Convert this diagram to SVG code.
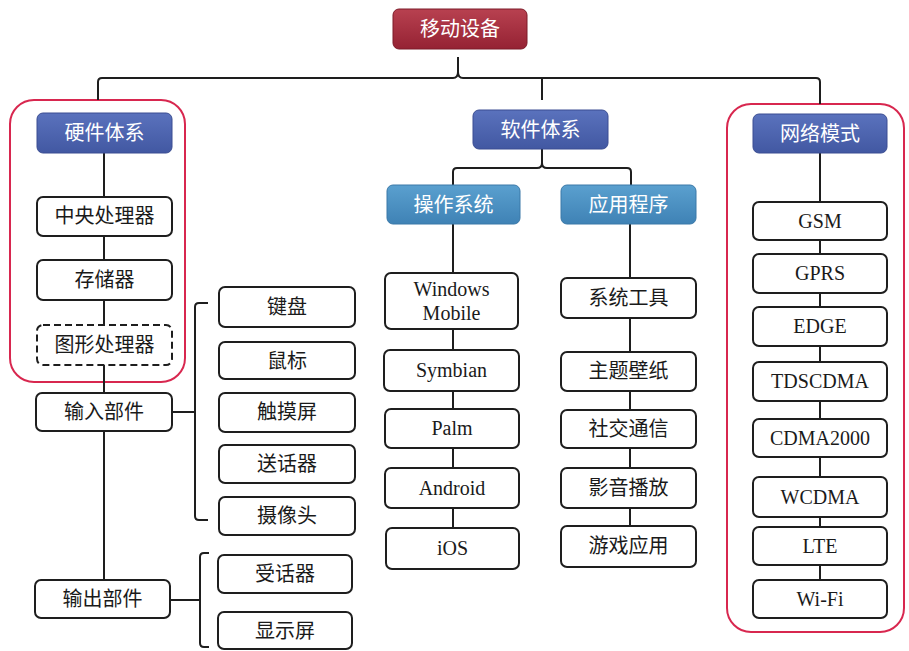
<svg xmlns="http://www.w3.org/2000/svg" width="909" height="651" viewBox="0 0 909 651">
<defs>
<linearGradient id="gRoot" x1="0" y1="0" x2="0" y2="1"><stop offset="0" stop-color="#b84150"/><stop offset="1" stop-color="#952233"/></linearGradient>
<linearGradient id="gBlue" x1="0" y1="0" x2="0" y2="1"><stop offset="0" stop-color="#5a72bd"/><stop offset="1" stop-color="#4258a2"/></linearGradient>
<linearGradient id="gSteel" x1="0" y1="0" x2="0" y2="1"><stop offset="0" stop-color="#5aa0cf"/><stop offset="1" stop-color="#3f82b5"/></linearGradient>
</defs>
<style>
.box{fill:#fff;stroke:#1e1e1e;stroke-width:2}
.dash{fill:#fff;stroke:#1e1e1e;stroke-width:2;stroke-dasharray:7 4}
.grp{fill:none;stroke:#d8274f;stroke-width:2}
.root{fill:url(#gRoot);stroke:#7d1a28;stroke-width:1}
.hb{fill:url(#gBlue);stroke:#3a4d92;stroke-width:1}
.hs{fill:url(#gSteel);stroke:#3a78a8;stroke-width:1}
.ln{fill:none;stroke:#1e1e1e;stroke-width:2}
text{font-family:"Liberation Serif","Noto Sans CJK SC",serif;font-size:20px;text-anchor:middle;fill:#1a1a1a}
.w{fill:#fff}
</style>

<g id="groups">
<rect class="grp" x="10" y="100" width="175" height="282" rx="24"/>
<rect class="grp" x="727" y="104" width="177" height="528" rx="24"/>
</g>

<g id="connectors">
<path class="ln" d="M98,100 V82 Q98,78 102,78 H453 Q458,78 458,72 V57 M458,72 Q458,78 463,78 H816 Q820,78 820,82 V104"/>
<path class="ln" d="M542,78 V100"/>
<path class="ln" d="M542,149 V163 Q542,168 537,168 H457 Q453,168 453,172 V185 M542,163 Q542,168 547,168 H627 Q631,168 631,172 V185"/>
<path class="ln" d="M104,153 V197 M104,236 V260 M104,300 V325 M104,365 V393 M104,431 V580"/>
<path class="ln" d="M172,412 H194 M208,303 H199 Q195,303 195,307 V516 Q195,520 199,520 H208"/>
<path class="ln" d="M170,600 H199 M209,553 H204 Q200,553 200,557 V643 Q200,647 204,647 H209"/>
<path class="ln" d="M453,224 V273 M453,329 V350 M453,391 V409 M453,448 V468 M453,508 V528"/>
<path class="ln" d="M630,224 V278 M630,318 V352 M630,391 V410 M630,448 V468 M630,508 V526"/>
<path class="ln" d="M820,153 V202 M820,240 V254 M820,293 V307 M820,346 V362 M820,401 V419 M820,457 V477 M820,517 V527 M820,565 V580"/>
</g>

<g id="n-root"><rect class="root" x="393" y="9" width="134" height="40" rx="6"/><text class="w" x="460" y="36">移动设备</text></g>

<g id="n-hw"><rect class="hb" x="37" y="113" width="135" height="40" rx="6"/><text class="w" x="104.5" y="140">硬件体系</text></g>
<g id="n-cpu"><rect class="box" x="37" y="197" width="135" height="39" rx="6"/><text x="104.5" y="223">中央处理器</text></g>
<g id="n-mem"><rect class="box" x="37" y="260" width="135" height="40" rx="6"/><text x="104.5" y="287">存储器</text></g>
<g id="n-gpu"><rect class="dash" x="37" y="325" width="135" height="40" rx="6"/><text x="104.5" y="352">图形处理器</text></g>
<g id="n-in"><rect class="box" x="36" y="393" width="136" height="38" rx="6"/><text x="104" y="419">输入部件</text></g>
<g id="n-out"><rect class="box" x="35" y="580" width="135" height="38" rx="6"/><text x="102.5" y="606">输出部件</text></g>

<g id="n-kb"><rect class="box" x="219" y="287" width="136" height="40" rx="6"/><text x="287" y="314">键盘</text></g>
<g id="n-mouse"><rect class="box" x="219" y="342" width="136" height="37" rx="6"/><text x="287" y="368">鼠标</text></g>
<g id="n-touch"><rect class="box" x="219" y="393" width="136" height="39" rx="6"/><text x="287" y="419">触摸屏</text></g>
<g id="n-mic"><rect class="box" x="219" y="445" width="136" height="38" rx="6"/><text x="287" y="471">送话器</text></g>
<g id="n-cam"><rect class="box" x="219" y="497" width="136" height="38" rx="6"/><text x="287" y="523">摄像头</text></g>
<g id="n-spk"><rect class="box" x="218" y="555" width="134" height="38" rx="6"/><text x="285" y="581">受话器</text></g>
<g id="n-disp"><rect class="box" x="218" y="612" width="134" height="37" rx="6"/><text x="285" y="638">显示屏</text></g>

<g id="n-sw"><rect class="hb" x="473" y="110" width="135" height="39" rx="6"/><text class="w" x="540.5" y="137">软件体系</text></g>
<g id="n-os"><rect class="hs" x="387" y="185" width="133" height="39" rx="6"/><text class="w" x="453.5" y="212">操作系统</text></g>
<g id="n-app"><rect class="hs" x="561" y="185" width="135" height="39" rx="6"/><text class="w" x="628.5" y="212">应用程序</text></g>

<g id="n-wm"><rect class="box" x="385" y="273" width="133" height="56" rx="6"/><text x="451.5" y="296">Windows</text><text x="451.5" y="320">Mobile</text></g>
<g id="n-sym"><rect class="box" x="384" y="350" width="135" height="41" rx="6"/><text x="451.5" y="377">Symbian</text></g>
<g id="n-palm"><rect class="box" x="385" y="409" width="134" height="39" rx="6"/><text x="452" y="435">Palm</text></g>
<g id="n-and"><rect class="box" x="385" y="468" width="134" height="40" rx="6"/><text x="452" y="495">Android</text></g>
<g id="n-ios"><rect class="box" x="386" y="528" width="133" height="41" rx="6"/><text x="452.5" y="555">iOS</text></g>

<g id="n-tool"><rect class="box" x="561" y="278" width="135" height="40" rx="6"/><text x="628.5" y="305">系统工具</text></g>
<g id="n-theme"><rect class="box" x="561" y="352" width="135" height="39" rx="6"/><text x="628.5" y="378">主题壁纸</text></g>
<g id="n-soc"><rect class="box" x="561" y="410" width="135" height="38" rx="6"/><text x="628.5" y="436">社交通信</text></g>
<g id="n-media"><rect class="box" x="561" y="468" width="135" height="40" rx="6"/><text x="628.5" y="495">影音播放</text></g>
<g id="n-game"><rect class="box" x="561" y="526" width="135" height="41" rx="6"/><text x="628.5" y="553">游戏应用</text></g>

<g id="n-net"><rect class="hb" x="753" y="114" width="134" height="39" rx="6"/><text class="w" x="820" y="141">网络模式</text></g>
<g id="n-gsm"><rect class="box" x="753" y="202" width="134" height="38" rx="6"/><text x="820" y="228">GSM</text></g>
<g id="n-gprs"><rect class="box" x="753" y="254" width="134" height="39" rx="6"/><text x="820" y="280">GPRS</text></g>
<g id="n-edge"><rect class="box" x="753" y="307" width="134" height="39" rx="6"/><text x="820" y="333">EDGE</text></g>
<g id="n-td"><rect class="box" x="753" y="362" width="134" height="39" rx="6"/><text x="820" y="388">TDSCDMA</text></g>
<g id="n-cdma"><rect class="box" x="753" y="419" width="134" height="38" rx="6"/><text x="820" y="445">CDMA2000</text></g>
<g id="n-wcdma"><rect class="box" x="753" y="477" width="134" height="40" rx="6"/><text x="820" y="504">WCDMA</text></g>
<g id="n-lte"><rect class="box" x="753" y="527" width="134" height="38" rx="6"/><text x="820" y="553">LTE</text></g>
<g id="n-wifi"><rect class="box" x="753" y="580" width="134" height="38" rx="6"/><text x="820" y="606">Wi-Fi</text></g>
</svg>
